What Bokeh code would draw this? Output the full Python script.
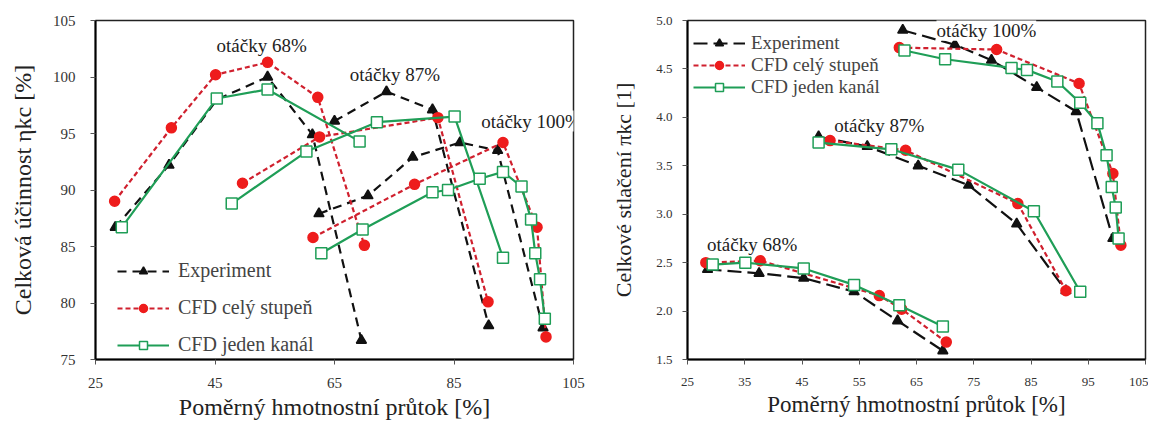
from bokeh.plotting import figure
from bokeh.models import Label, Legend, LegendItem, FixedTicker, NumeralTickFormatter
from bokeh.layouts import row
from bokeh.embed import file_html
from bokeh.resources import INLINE

# ---------------- DATA: left panel (efficiency) ----------------
eff_exp68_x = [28.3, 37.3, 45.3, 53.8, 61.3, 69.5]
eff_exp68_y = [86.7, 92.2, 98.0, 100.0, 94.9, 76.7]
eff_exp87_x = [65.0, 73.7, 81.4, 90.8]
eff_exp87_y = [96.1, 98.7, 97.1, 78.0]
eff_exp100_x = [62.4, 70.6, 78.1, 86.0, 92.3, 99.9]
eff_exp100_y = [87.9, 89.5, 92.9, 94.2, 93.5, 77.8]

eff_cfd68_x = [28.2, 37.7, 45.1, 53.8, 62.2, 70.0]
eff_cfd68_y = [89.0, 95.5, 100.2, 101.3, 98.2, 85.1]
eff_cfd87_x = [49.6, 62.5, 82.3, 90.7]
eff_cfd87_y = [90.6, 94.7, 96.4, 80.1]
eff_cfd100_x = [61.4, 78.4, 93.2, 98.9, 100.4]
eff_cfd100_y = [85.8, 90.5, 94.2, 86.7, 77.0]

eff_ch68_x = [29.4, 45.3, 53.8, 69.2]
eff_ch68_y = [86.7, 98.1, 98.9, 94.3]
eff_ch87_x = [47.8, 60.3, 72.1, 85.1, 93.2]
eff_ch87_y = [88.8, 93.4, 96.0, 96.5, 84.0]
eff_ch100_x = [62.8, 69.7, 81.4, 84.0, 89.3, 93.2, 96.3, 97.9, 98.6, 99.4, 100.2]
eff_ch100_y = [84.4, 86.5, 89.8, 90.0, 91.0, 91.6, 90.3, 87.4, 84.4, 82.1, 78.6]

# ---------------- DATA: right panel (pressure ratio) ----------------
pr_exp68_x = [28.5, 37.5, 45.3, 54.1, 61.7, 69.6]
pr_exp68_y = [2.43, 2.39, 2.34, 2.20, 1.90, 1.59]
pr_exp87_x = [47.9, 56.4, 65.3, 74.1, 82.5, 91.1]
pr_exp87_y = [3.80, 3.70, 3.50, 3.30, 2.90, 2.21]
pr_exp100_x = [62.6, 71.7, 78.1, 86.0, 92.9, 99.3]
pr_exp100_y = [4.90, 4.75, 4.59, 4.31, 4.06, 2.75]

pr_cfd68_x = [28.2, 37.7, 58.5, 62.4, 70.2]
pr_cfd68_y = [2.50, 2.52, 2.16, 2.02, 1.68]
pr_cfd87_x = [49.9, 63.1, 82.7, 91.1]
pr_cfd87_y = [3.76, 3.66, 3.11, 2.21]
pr_cfd100_x = [62.0, 79.0, 93.4, 99.3, 100.7]
pr_cfd100_y = [4.72, 4.70, 4.35, 3.42, 2.68]

pr_ch68_x = [29.4, 35.1, 45.3, 54.1, 62.0, 69.6]
pr_ch68_y = [2.48, 2.50, 2.44, 2.27, 2.06, 1.84]
pr_ch87_x = [47.9, 60.6, 72.3, 85.5, 93.6]
pr_ch87_y = [3.74, 3.67, 3.46, 3.03, 2.20]
pr_ch100_x = [62.9, 70.0, 81.6, 84.3, 89.6, 93.6, 96.6, 98.2, 99.1, 99.8, 100.3]
pr_ch100_y = [4.69, 4.60, 4.51, 4.49, 4.37, 4.15, 3.94, 3.61, 3.28, 3.07, 2.75]

legend_labels = ["Experiment", "CFD celý stupeň", "CFD jeden kanál"]
left_x_ticks = [25, 45, 65, 85, 105]
left_y_ticks = [75, 80, 85, 90, 95, 100, 105]
right_x_ticks = [25, 35, 45, 55, 65, 75, 85, 95, 105]
right_y_ticks = [1.5, 2.0, 2.5, 3.0, 3.5, 4.0, 4.5, 5.0]

FONT = "Liberation Serif"
BLACK = "#111111"
RED_L = "#d0202e"
RED_M = "#ee1c1c"
GREEN = "#1f9e57"


def style(p, xticks, yticks, tick_size, ylabel, xlab_size, ylab_size):
    p.xaxis.ticker = FixedTicker(ticks=xticks)
    p.yaxis.ticker = FixedTicker(ticks=yticks)
    p.grid.visible = False
    p.outline_line_color = "#222222"
    p.outline_line_width = 1.5
    for ax in (p.xaxis, p.yaxis):
        ax.axis_line_width = 2
        ax.axis_line_color = "black"
        ax.major_tick_line_color = "#555555"
        ax.major_tick_in = 0
        ax.major_tick_out = 5
        ax.minor_tick_line_color = None
        ax.major_label_text_font = FONT
        ax.major_label_text_font_size = tick_size
        ax.major_label_text_color = "#333333"
        ax.axis_label_text_font = FONT
        ax.axis_label_text_font_style = "normal"
        ax.axis_label_text_color = "#222222"
    p.xaxis.axis_label_text_font_size = xlab_size
    p.yaxis.axis_label_text_font_size = ylab_size
    p.xaxis.axis_label = "Poměrný hmotnostní průtok [%]"
    p.yaxis.axis_label = ylabel
    p.xaxis.major_label_standoff = 13
    p.xaxis.axis_label_standoff = 3


def series(p, xs, ys, color_line, color_mark, dash, marker, msize, fill):
    rl = p.line(xs, ys, line_color=color_line, line_width=2.2, line_dash=dash)
    rm = p.scatter(xs, ys, marker=marker, size=msize, line_color=color_mark,
                   fill_color=fill, line_width=1.5)
    return rl, rm


styles = [
    (BLACK, BLACK, "9 6", "triangle", 10, BLACK),
    (RED_L, RED_M, "5 3", "circle", 10, RED_M),
    (GREEN, GREEN, "solid", "square", 11, "white"),
]


def draw(p, sets, exp_dash):
    firsts = []
    for k, group in enumerate(sets):
        cl, cm, dash, mk, ms, fill = styles[k]
        if k == 0:
            dash = exp_dash
        first = None
        for xs, ys in group:
            r = series(p, xs, ys, cl, cm, dash, mk, ms, fill)
            if first is None:
                first = r
        firsts.append(first)
    return firsts


# ---------------- LEFT FIGURE ----------------
p1 = figure(width=596, height=429, x_range=(25, 105), y_range=(75, 105),
            output_backend="svg", toolbar_location=None,
            min_border_left=95, min_border_right=23, min_border_top=17,
            min_border_bottom=70)
style(p1, left_x_ticks, left_y_ticks, "15px", "Celková účinnost ηkc [%]", "24px", "24px")
p1.yaxis.major_label_standoff = 15
p1.yaxis.axis_label_standoff = 14

left_sets = [
    [(eff_exp68_x, eff_exp68_y), (eff_exp87_x, eff_exp87_y), (eff_exp100_x, eff_exp100_y)],
    [(eff_cfd68_x, eff_cfd68_y), (eff_cfd87_x, eff_cfd87_y), (eff_cfd100_x, eff_cfd100_y)],
    [(eff_ch68_x, eff_ch68_y), (eff_ch87_x, eff_ch87_y), (eff_ch100_x, eff_ch100_y)],
]
f1 = draw(p1, left_sets, "9 6")
leg1 = Legend(items=[LegendItem(label=legend_labels[i], renderers=list(f1[i])) for i in range(3)],
              location=(22, 3), glyph_width=52, glyph_height=20, label_height=20,
              spacing=14, padding=0, label_standoff=9,
              label_text_font=FONT, label_text_font_size="20px",
              border_line_color=None, background_fill_alpha=0)
p1.add_layout(leg1)

for txt, x, y in [("otáčky 68%", 52.8, 102.8), ("otáčky 87%", 75.1, 100.2),
                  ("otáčky 100%", 97.9, 96.1)]:
    p1.add_layout(Label(x=x, y=y, text=txt, text_align="center", text_baseline="middle",
                        text_font=FONT, text_font_size="19px", text_color="#222222",
                        background_fill_color="white", background_fill_alpha=1.0))

# ---------------- RIGHT FIGURE ----------------
p2 = figure(width=552, height=429, x_range=(25, 105), y_range=(1.5, 5.0),
            output_backend="svg", toolbar_location=None,
            min_border_left=91, min_border_right=3, min_border_top=20,
            min_border_bottom=68)
style(p2, right_x_ticks, right_y_ticks, "13px", "Celkové stlačení πkc [1]", "23px", "22px")
p2.yaxis.formatter = NumeralTickFormatter(format="0.0")
p2.yaxis.major_label_standoff = 10
p2.yaxis.axis_label_standoff = 17

right_sets = [
    [(pr_exp68_x, pr_exp68_y), (pr_exp87_x, pr_exp87_y), (pr_exp100_x, pr_exp100_y)],
    [(pr_cfd68_x, pr_cfd68_y), (pr_cfd87_x, pr_cfd87_y), (pr_cfd100_x, pr_cfd100_y)],
    [(pr_ch68_x, pr_ch68_y), (pr_ch87_x, pr_ch87_y), (pr_ch100_x, pr_ch100_y)],
]
f2 = draw(p2, right_sets, "14 6")
leg2 = Legend(items=[LegendItem(label=legend_labels[i], renderers=list(f2[i])) for i in range(3)],
              location=(6, 261), glyph_width=52, glyph_height=20, label_height=20,
              spacing=0, padding=0, label_standoff=6,
              label_text_font=FONT, label_text_font_size="19px",
              border_line_color=None, background_fill_alpha=0)
p2.add_layout(leg2)

for txt, x, y in [("otáčky 100%", 77.2, 4.90), ("otáčky 87%", 58.5, 3.92),
                  ("otáčky 68%", 36.3, 2.69)]:
    p2.add_layout(Label(x=x, y=y, text=txt, text_align="center", text_baseline="middle",
                        text_font=FONT, text_font_size="19px", text_color="#222222",
                        background_fill_color="white", background_fill_alpha=1.0))

layout = row(p1, p2, spacing=0)
open("out.html", "w").write(file_html(layout, INLINE))
